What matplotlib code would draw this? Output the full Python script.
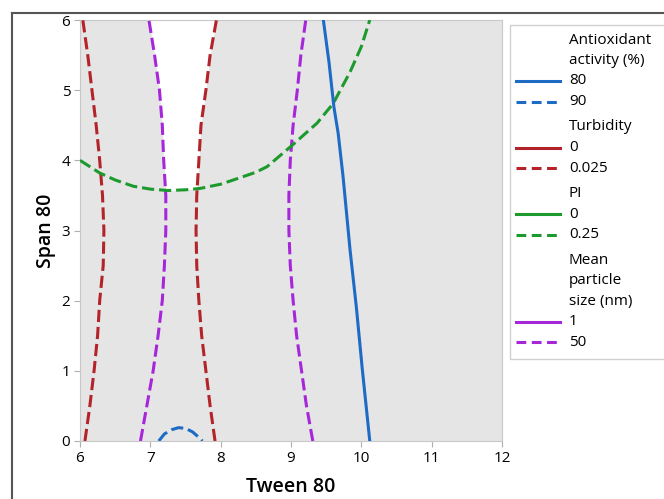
import matplotlib
matplotlib.use("Agg")
import matplotlib.pyplot as plt
import numpy as np
from matplotlib.lines import Line2D
from matplotlib.patches import Rectangle

plt.rcParams['font.family'] = ['Open Sans', 'DejaVu Sans']

# Vertical contours, read as x at given Span 80 levels
span_pts = [0, 0.5, 1, 1.5, 2, 2.5, 3, 3.5, 4, 4.5, 5, 5.5, 6]
turb_left_x = [6.07, 6.14, 6.20, 6.25, 6.28, 6.33, 6.34, 6.32, 6.28, 6.23, 6.17, 6.11, 6.04]
turb_right_x = [7.92, 7.85, 7.79, 7.73, 7.69, 7.66, 7.65, 7.66, 7.69, 7.72, 7.79, 7.85, 7.94]
size_left_x = [6.86, 6.95, 7.04, 7.11, 7.17, 7.20, 7.22, 7.22, 7.19, 7.17, 7.13, 7.06, 6.98]
size_right_x = [9.31, 9.22, 9.15, 9.08, 9.03, 8.99, 8.97, 8.97, 8.99, 9.03, 9.09, 9.14, 9.21]

# Antioxidant activity 80 contour
anti80_y = [0, 1.06, 1.9, 2.72, 3.77, 4.39, 4.76, 5.4, 6]
anti80_x = [10.12, 10.01, 9.93, 9.84, 9.74, 9.67, 9.61, 9.54, 9.46]

# Antioxidant activity 90 contour (small arc at bottom)
anti90_x = [7.12, 7.2, 7.3, 7.4, 7.5, 7.6, 7.68, 7.74]
anti90_y = [0, 0.10, 0.16, 0.19, 0.18, 0.13, 0.06, 0]

# PI 0.25 contour
pi_x = [6.0, 6.28, 6.5, 6.76, 7.0, 7.25, 7.5, 7.71, 8.0, 8.18, 8.5, 8.66, 9.0, 9.37, 9.6, 9.84, 10.0, 10.12]
pi_y = [4.0, 3.82, 3.72, 3.63, 3.59, 3.57, 3.58, 3.60, 3.66, 3.72, 3.83, 3.91, 4.2, 4.53, 4.81, 5.26, 5.62, 6.0]

blue = '#1e6bc6'
red = '#b3242a'
green = '#1d9a2d'
purple = '#a626d9'
grey_bg = '#e5e5e5'
dash = (4, 1.6)

fig = plt.figure(figsize=(6.64, 4.99), dpi=100)
W, H = 664, 499
ax = fig.add_axes([80 / W, 1 - 441 / H, 422 / W, 421 / H])
ax.set_facecolor(grey_bg)

# white feasible region: between size-left and turbidity-right, above PI curve
ax.fill_betweenx(span_pts, size_left_x, turb_right_x, color='white', lw=0, zorder=1)
ax.fill_between(pi_x, 0, pi_y, color=grey_bg, lw=0, zorder=1.5)

lw = 2.2
ax.plot(turb_left_x, span_pts, color=red, lw=lw, dashes=dash, zorder=3)
ax.plot(turb_right_x, span_pts, color=red, lw=lw, dashes=dash, zorder=3)
ax.plot(size_left_x, span_pts, color=purple, lw=lw, dashes=dash, zorder=3)
ax.plot(size_right_x, span_pts, color=purple, lw=lw, dashes=dash, zorder=3)
ax.plot(pi_x, pi_y, color=green, lw=lw, dashes=dash, zorder=3)
ax.plot(anti80_x, anti80_y, color=blue, lw=lw, zorder=3)
ax.plot(anti90_x, anti90_y, color=blue, lw=lw, dashes=dash, zorder=3)

ax.set_xlim(6, 12)
ax.set_ylim(0, 6)
ax.set_xticks(range(6, 13))
ax.set_yticks(range(0, 7))
ax.tick_params(direction='out', length=4, color='#b0b0b0', labelsize=11, pad=3)
for s in ax.spines.values():
    s.set_color('#c8c8c8')
ax.set_xlabel('Tween 80', fontsize=14, fontweight='semibold', labelpad=8)
ax.set_ylabel('Span 80', fontsize=14, fontweight='semibold', labelpad=4)

# screenshot frame lines
fig.add_artist(Line2D([12 / W, 1], [1 - 13 / H] * 2, color='#555555', lw=1.5))
fig.add_artist(Line2D([12 / W] * 2, [0, 1 - 13 / H], color='#555555', lw=1.5))

# legend drawn by hand
fig.add_artist(Rectangle((510 / W, 1 - 359 / H), 200 / W, 334 / H,
                         facecolor='white', edgecolor='#d0d0d0', lw=1))
groups = [
    (["Antioxidant", "activity (%)"], ["80", "90"], blue),
    (["Turbidity"], ["0", "0.025"], red),
    (["PI"], ["0", "0.25"], green),
    (["Mean", "particle", "size (nm)"], ["1", "50"], purple),
]
y = 40
for header, levels, col in groups:
    for h in header:
        fig.text(569 / W, 1 - y / H, h, fontsize=11, va='center', ha='left')
        y += 20.5
    for k, lev in enumerate(levels):
        kw = dict(color=col, lw=2.2)
        if k == 1:
            kw['dashes'] = (3.2, 1.8)
        fig.add_artist(Line2D([516 / W, 560 / W], [1 - y / H] * 2, **kw))
        fig.text(569 / W, 1 - y / H, lev, fontsize=11, va='center', ha='left')
        y += 20.5
    y += 5

fig.savefig('out.png', dpi=100)
